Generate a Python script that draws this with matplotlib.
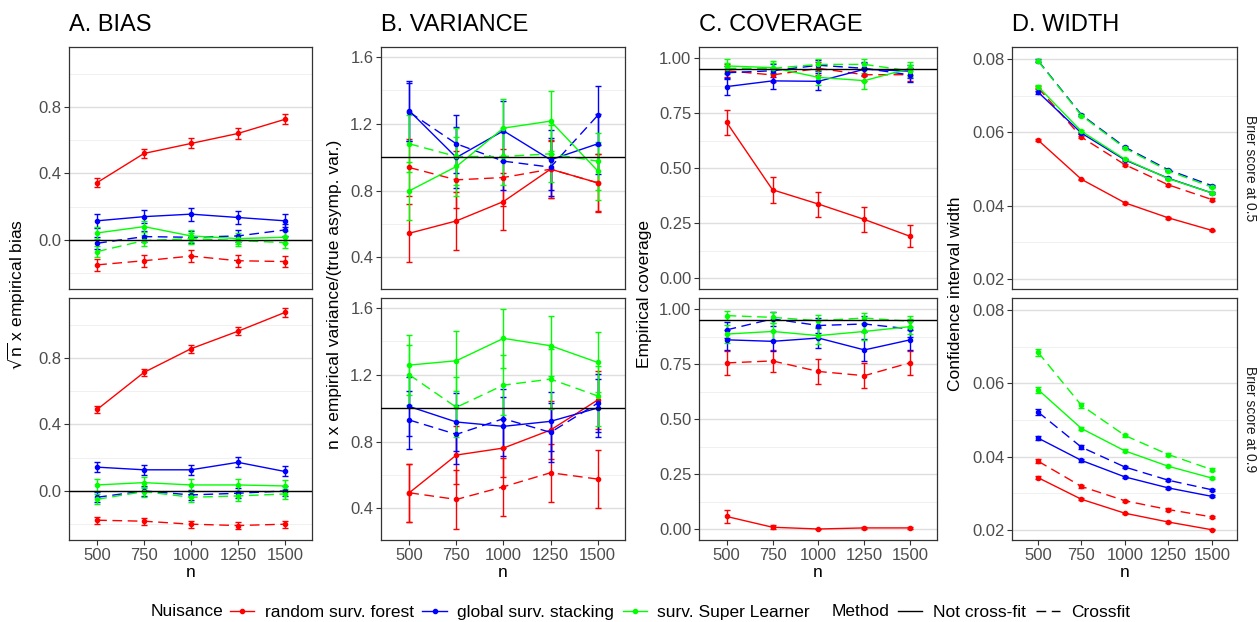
import matplotlib.pyplot as plt
from matplotlib.lines import Line2D

plt.rcParams['font.family'] = ['Liberation Sans', 'DejaVu Sans']
plt.rcParams['mathtext.fontset'] = 'dejavusans'
plt.rcParams['lines.dashed_pattern'] = [7, 4]

n = [500, 750, 1000, 1250, 1500]

# --- A. bias (sqrt(n) x empirical bias) ---
bias_b05 = {
    "rf_ncf": [0.345, 0.52, 0.58, 0.64, 0.725],
    "gs_ncf": [0.115, 0.14, 0.155, 0.135, 0.115],
    "sl_ncf": [0.042, 0.08, 0.024, 0.008, 0.016],
    "rf_cf": [-0.15, -0.125, -0.097, -0.125, -0.13],
    "gs_cf": [-0.02, 0.02, 0.016, 0.024, 0.06],
    "sl_cf": [-0.07, -0.004, 0.008, -0.004, -0.016],
}
bias_b05_err = {
    "rf_ncf": [0.028, 0.028, 0.03, 0.032, 0.03],
    "gs_ncf": [0.042, 0.04, 0.04, 0.04, 0.04],
    "sl_ncf": [0.035, 0.035, 0.035, 0.035, 0.035],
    "rf_cf": [0.035, 0.035, 0.035, 0.035, 0.035],
    "gs_cf": [0.035, 0.035, 0.035, 0.035, 0.035],
    "sl_cf": [0.035, 0.035, 0.035, 0.035, 0.035],
}
bias_b09 = {
    "rf_ncf": [0.49, 0.713, 0.855, 0.96, 1.073],
    "gs_ncf": [0.143, 0.127, 0.127, 0.172, 0.117],
    "sl_ncf": [0.036, 0.05, 0.036, 0.036, 0.03],
    "rf_cf": [-0.176, -0.182, -0.2, -0.208, -0.2],
    "gs_cf": [-0.038, 0.0, -0.024, -0.014, 0.0],
    "sl_cf": [-0.05, -0.004, -0.038, -0.03, -0.018],
}
bias_b09_err = {
    "rf_ncf": [0.02, 0.022, 0.024, 0.025, 0.025],
    "gs_ncf": [0.03, 0.03, 0.03, 0.03, 0.03],
    "sl_ncf": [0.035, 0.035, 0.035, 0.035, 0.035],
    "rf_cf": [0.02, 0.02, 0.02, 0.02, 0.02],
    "gs_cf": [0.03, 0.03, 0.03, 0.03, 0.03],
    "sl_cf": [0.03, 0.03, 0.03, 0.03, 0.03],
}

# --- B. variance ratio ---
var_b05 = {
    "rf_ncf": [0.544, 0.618, 0.734, 0.928, 0.846],
    "gs_ncf": [1.278, 0.998, 1.158, 0.984, 1.08],
    "sl_ncf": [0.798, 0.944, 1.174, 1.216, 0.918],
    "rf_cf": [0.938, 0.864, 0.878, 0.928, 0.846],
    "gs_cf": [1.27, 1.08, 0.976, 0.94, 1.25],
    "sl_cf": [1.08, 1.004, 1.004, 1.02, 0.976],
}
var_b05_err = {
    "rf_ncf": [0.175, 0.175, 0.17, 0.175, 0.175],
    "gs_ncf": [0.18, 0.18, 0.18, 0.18, 0.18],
    "sl_ncf": [0.175, 0.175, 0.175, 0.18, 0.175],
    "rf_cf": [0.17, 0.17, 0.17, 0.17, 0.17],
    "gs_cf": [0.175, 0.175, 0.175, 0.175, 0.175],
    "sl_cf": [0.17, 0.17, 0.17, 0.17, 0.17],
}
var_b09 = {
    "rf_ncf": [0.493, 0.719, 0.761, 0.869, 1.049],
    "gs_ncf": [1.01, 0.917, 0.891, 0.921, 1.001],
    "sl_ncf": [1.258, 1.284, 1.418, 1.374, 1.274],
    "rf_cf": [0.493, 0.453, 0.529, 0.613, 0.575],
    "gs_cf": [0.929, 0.843, 0.937, 0.855, 1.03],
    "sl_cf": [1.2, 1.005, 1.138, 1.174, 1.073],
}
var_b09_err = {
    "rf_ncf": [0.175, 0.175, 0.175, 0.175, 0.175],
    "gs_ncf": [0.175, 0.175, 0.175, 0.175, 0.175],
    "sl_ncf": [0.18, 0.18, 0.176, 0.18, 0.18],
    "rf_cf": [0.175, 0.175, 0.175, 0.175, 0.175],
    "gs_cf": [0.175, 0.175, 0.175, 0.175, 0.175],
    "sl_cf": [0.18, 0.18, 0.18, 0.18, 0.18],
}

# --- C. coverage ---
cov_b05 = {
    "rf_ncf": [0.708, 0.401, 0.336, 0.266, 0.189],
    "gs_ncf": [0.87, 0.896, 0.894, 0.949, 0.94],
    "sl_ncf": [0.964, 0.956, 0.912, 0.897, 0.953],
    "rf_cf": [0.942, 0.923, 0.953, 0.924, 0.924],
    "gs_cf": [0.933, 0.942, 0.967, 0.953, 0.923],
    "sl_cf": [0.953, 0.953, 0.971, 0.971, 0.941],
}
cov_b05_err = {
    "rf_ncf": [0.056, 0.06, 0.057, 0.055, 0.05],
    "gs_ncf": [0.04, 0.038, 0.038, 0.03, 0.03],
    "sl_ncf": [0.03, 0.03, 0.035, 0.037, 0.03],
    "rf_cf": [0.03, 0.03, 0.03, 0.03, 0.03],
    "gs_cf": [0.03, 0.03, 0.025, 0.03, 0.03],
    "sl_cf": [0.025, 0.025, 0.025, 0.025, 0.028],
}
cov_b09 = {
    "rf_ncf": [0.057, 0.008, 0.0, 0.005, 0.005],
    "gs_ncf": [0.86, 0.853, 0.868, 0.814, 0.86],
    "sl_ncf": [0.886, 0.898, 0.879, 0.898, 0.92],
    "rf_cf": [0.755, 0.764, 0.716, 0.697, 0.756],
    "gs_cf": [0.905, 0.955, 0.925, 0.932, 0.909],
    "sl_cf": [0.97, 0.962, 0.947, 0.959, 0.944],
}
cov_b09_err = {
    "rf_ncf": [0.03, 0.01, 0.002, 0.006, 0.006],
    "gs_ncf": [0.045, 0.045, 0.045, 0.049, 0.045],
    "sl_ncf": [0.04, 0.04, 0.04, 0.04, 0.035],
    "rf_cf": [0.055, 0.05, 0.055, 0.057, 0.055],
    "gs_cf": [0.035, 0.03, 0.035, 0.035, 0.035],
    "sl_cf": [0.022, 0.025, 0.028, 0.025, 0.025],
}

# --- D. confidence interval width ---
wid_b05 = {
    "rf_ncf": [0.0579, 0.0472, 0.0408, 0.0367, 0.0333],
    "gs_ncf": [0.0710, 0.0598, 0.0525, 0.0475, 0.0435],
    "sl_ncf": [0.0725, 0.0603, 0.0527, 0.0474, 0.0435],
    "rf_cf": [0.0722, 0.0587, 0.0512, 0.0457, 0.0417],
    "gs_cf": [0.0796, 0.0648, 0.0560, 0.0498, 0.0455],
    "sl_cf": [0.0795, 0.0646, 0.0557, 0.0495, 0.0451],
}
wid_b05_err = {
    "rf_ncf": [0.0003, 0.0002, 0.0002, 0.0002, 0.0002],
    "gs_ncf": [0.0004, 0.0003, 0.0003, 0.0003, 0.0003],
    "sl_ncf": [0.0004, 0.0003, 0.0003, 0.0003, 0.0003],
    "rf_cf": [0.0004, 0.0003, 0.0003, 0.0003, 0.0003],
    "gs_cf": [0.0004, 0.0003, 0.0003, 0.0003, 0.0003],
    "sl_cf": [0.0004, 0.0003, 0.0003, 0.0003, 0.0003],
}
wid_b09 = {
    "rf_ncf": [0.0343, 0.0284, 0.0246, 0.0222, 0.0201],
    "gs_ncf": [0.0451, 0.0390, 0.0345, 0.0315, 0.0292],
    "sl_ncf": [0.0583, 0.0477, 0.0416, 0.0374, 0.0342],
    "rf_cf": [0.0388, 0.0319, 0.0280, 0.0256, 0.0236],
    "gs_cf": [0.0522, 0.0426, 0.0372, 0.0336, 0.0310],
    "sl_cf": [0.0685, 0.0540, 0.0458, 0.0406, 0.0365],
}
wid_b09_err = {
    "rf_ncf": [0.0004, 0.0003, 0.0002, 0.0002, 0.0002],
    "gs_ncf": [0.0006, 0.0004, 0.0003, 0.0003, 0.0003],
    "sl_ncf": [0.0008, 0.0005, 0.0004, 0.0003, 0.0003],
    "rf_cf": [0.0005, 0.0004, 0.0003, 0.0003, 0.0003],
    "gs_cf": [0.0007, 0.0005, 0.0004, 0.0003, 0.0003],
    "sl_cf": [0.0009, 0.0006, 0.0004, 0.0004, 0.0004],
}

nuisance_labels = ["random surv. forest", "global surv. stacking", "surv. Super Learner"]
method_labels = ["Not cross-fit", "Crossfit"]
strip_labels = ["Brier score at 0.5", "Brier score at 0.9"]

colors = {"rf": "#FF0000", "gs": "#0000FF", "sl": "#00FF00"}
styles = {"ncf": "-", "cf": "--"}

columns = [
    dict(title="A. BIAS", ylabel=r"$\sqrt{\mathregular{n}}$ x empirical bias",
         data=[(bias_b05, bias_b05_err), (bias_b09, bias_b09_err)],
         ylim=(-0.295, 1.16), major=[0.0, 0.4, 0.8], minor=[-0.2, 0.2, 0.6, 1.0],
         fmt="{:.1f}", ref=0.0, px=(69, 312), ylab_x=17),
    dict(title="B. VARIANCE", ylabel="n x empirical variance/(true asymp. var.)",
         data=[(var_b05, var_b05_err), (var_b09, var_b09_err)],
         ylim=(0.21, 1.66), major=[0.4, 0.8, 1.2, 1.6], minor=[0.6, 1.0, 1.4],
         fmt="{:.1f}", ref=1.0, px=(381, 625), ylab_x=335),
    dict(title="C. COVERAGE", ylabel="Empirical coverage",
         data=[(cov_b05, cov_b05_err), (cov_b09, cov_b09_err)],
         ylim=(-0.05, 1.05), major=[0.0, 0.25, 0.5, 0.75, 1.0], minor=[0.125, 0.375, 0.625, 0.875],
         fmt="{:.2f}", ref=0.95, px=(699, 937), ylab_x=645),
    dict(title="D. WIDTH", ylabel="Confidence interval width",
         data=[(wid_b05, wid_b05_err), (wid_b09, wid_b09_err)],
         ylim=(0.0173, 0.0833), major=[0.02, 0.04, 0.06, 0.08], minor=[0.03, 0.05, 0.07],
         fmt="{:.2f}", ref=None, px=(1012, 1237), ylab_x=955),
]

W, H = 1257, 622
rows_px = [(47, 289), (298, 540)]

fig = plt.figure(figsize=(W / 100, H / 100), dpi=100)

for col in columns:
    x0, x1 = col["px"]
    for r, (y0, y1) in enumerate(rows_px):
        ax = fig.add_axes([x0 / W, 1 - y1 / H, (x1 - x0) / W, (y1 - y0) / H])
        vals, errs = col["data"][r]
        for key in ["rf_ncf", "rf_cf", "gs_ncf", "gs_cf", "sl_ncf", "sl_cf"]:
            nu, me = key.split("_")
            ax.errorbar(n, vals[key], yerr=errs[key], color=colors[nu], linestyle=styles[me],
                        lw=1.0, marker="o", ms=3, capsize=2.4, elinewidth=1.0, capthick=1.0, zorder=3)
        if col["ref"] is not None:
            ax.axhline(col["ref"], color="black", lw=1.0, zorder=4)
        ax.set_xlim(350, 1645)
        ax.set_ylim(*col["ylim"])
        ax.set_xticks(n)
        ax.set_yticks(col["major"])
        ax.set_yticks(col["minor"], minor=True)
        ax.set_yticklabels([col["fmt"].format(v) for v in col["major"]])
        ax.grid(axis="y", which="major", color="#DEDEDE", lw=1.0, zorder=0)
        ax.grid(axis="y", which="minor", color="#F0F0F0", lw=0.7, zorder=0)
        ax.set_axisbelow(True)
        ax.tick_params(axis="both", which="major", labelsize=12, labelcolor="#4D4D4D",
                       color="#333333", length=3.5, width=0.8, pad=2)
        ax.tick_params(axis="y", which="minor", length=0)
        for s in ax.spines.values():
            s.set_color("#333333")
            s.set_linewidth(0.9)
        if r == 0:
            ax.tick_params(axis="x", labelbottom=False, length=0)
        else:
            ax.set_xlabel("n", fontsize=12.5, labelpad=2)
        if col["title"] == "D. WIDTH":
            ax.text(1.025, 0.5, strip_labels[r], transform=ax.transAxes, rotation=270,
                    ha="left", va="center", fontsize=10, color="#1A1A1A")
    fig.text(x0 / W, 1 - 25 / H, col["title"], fontsize=17, ha="left", va="center")
    fig.text(col["ylab_x"] / W, 1 - 294 / H, col["ylabel"], fontsize=12.5,
             rotation=90, ha="center", va="center")

# --- legend ---
leg_y = 1 - 612 / H
fig.text(151 / W, leg_y, "Nuisance", fontsize=12.5, ha="left", va="center")
nu_handles = [Line2D([], [], color=colors[k], lw=1.0, marker="o", ms=3) for k in ["rf", "gs", "sl"]]
fig.legend(nu_handles, nuisance_labels, loc="center left", bbox_to_anchor=(230 / W, leg_y),
           ncol=3, frameon=False, fontsize=12.5, handlelength=1.4, handletextpad=0.6,
           columnspacing=0.5, borderpad=0, borderaxespad=0)
fig.text(832 / W, leg_y, "Method", fontsize=12.5, ha="left", va="center")
me_handles = [Line2D([], [], color="black", lw=1.0, linestyle=styles[k]) for k in ["ncf", "cf"]]
fig.legend(me_handles, method_labels, loc="center left", bbox_to_anchor=(898 / W, leg_y),
           ncol=2, frameon=False, fontsize=12.5, handlelength=1.4, handletextpad=0.6,
           columnspacing=0.6, borderpad=0, borderaxespad=0)

fig.savefig("out.png", dpi=100)
